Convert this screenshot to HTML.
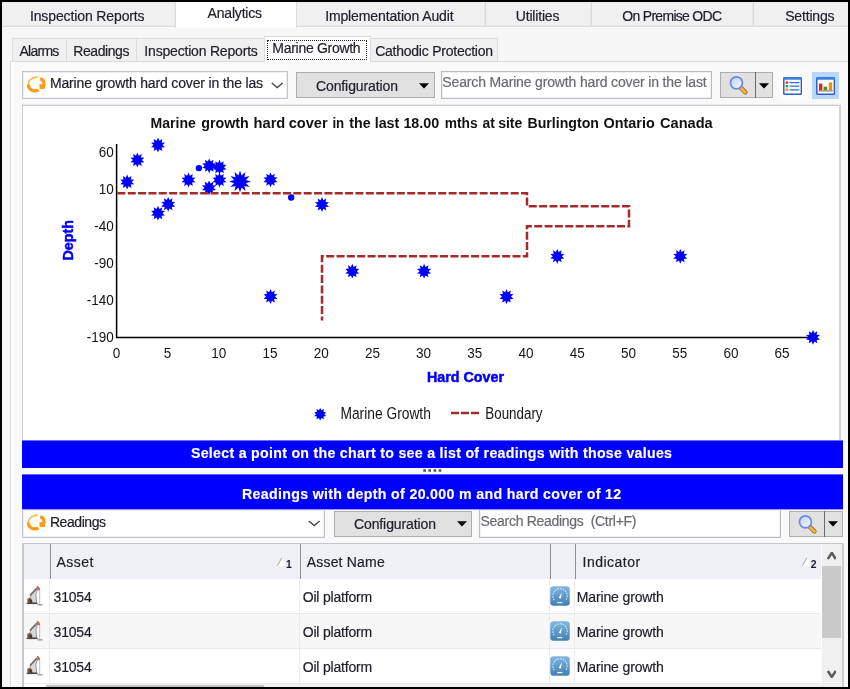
<!DOCTYPE html>
<html lang="en">
<head>
<meta charset="utf-8">
<title>Analytics - Marine Growth</title>
<style>
*{box-sizing:border-box;margin:0;padding:0}
html,body{width:850px;height:689px;overflow:hidden;background:#000}
body{font-family:"Liberation Sans",sans-serif;position:relative}
.a{position:absolute;display:block}
.t{position:absolute;white-space:pre;font-family:"Liberation Sans",sans-serif}
svg.chart{position:absolute;left:0;top:0}
</style>
</head>
<body>
<div class="a" style="left:2px;top:2px;width:846px;height:685px;background:#f7f7f7"></div>
<nav aria-label="Main tabs">
<div class="a" style="left:2px;top:2px;width:846px;height:25px;background:#f0f0f0;border-bottom:1px solid #dcdcdc;border-top:1px solid #e9e9e9;box-shadow:inset 0 -1px 0 #e8e8e8"></div>
<div class="a" style="left:174px;top:2px;width:2px;height:24px;background:linear-gradient(90deg,#e6e6e6 50%,#dadada 50%)"></div>
<div class="a" style="left:484px;top:2px;width:2px;height:24px;background:linear-gradient(90deg,#e6e6e6 50%,#dadada 50%)"></div>
<div class="a" style="left:590px;top:2px;width:2px;height:24px;background:linear-gradient(90deg,#e6e6e6 50%,#dadada 50%)"></div>
<div class="a" style="left:752px;top:2px;width:2px;height:24px;background:linear-gradient(90deg,#e6e6e6 50%,#dadada 50%)"></div>
<div class="a" style="left:175px;top:2px;width:122px;height:26px;background:#fff;border-left:1px solid #dcdcdc;border-right:1px solid #dcdcdc"></div>
<span class="t" style="left:29.95px;top:8.65px;font-size:14.00px;line-height:14.00px;letter-spacing:-0.121px;color:#20202a;-webkit-text-stroke:0.18px #20202a;">Inspection Reports</span>
<span class="t" style="left:207.55px;top:6.35px;font-size:14.00px;line-height:14.00px;letter-spacing:-0.187px;color:#20202a;-webkit-text-stroke:0.18px #20202a;">Analytics</span>
<span class="t" style="left:325.15px;top:8.65px;font-size:14.00px;line-height:14.00px;letter-spacing:-0.118px;color:#20202a;-webkit-text-stroke:0.18px #20202a;">Implementation Audit</span>
<span class="t" style="left:515.75px;top:8.65px;font-size:14.00px;line-height:14.00px;letter-spacing:-0.181px;color:#20202a;-webkit-text-stroke:0.18px #20202a;">Utilities</span>
<span class="t" style="left:622.35px;top:8.65px;font-size:14.00px;line-height:14.00px;letter-spacing:-0.709px;color:#20202a;-webkit-text-stroke:0.18px #20202a;">On Premise ODC</span>
<span class="t" style="left:785.15px;top:8.65px;font-size:14.00px;line-height:14.00px;letter-spacing:-0.158px;color:#20202a;-webkit-text-stroke:0.18px #20202a;">Settings</span>
</nav>
<main>
<nav aria-label="Analytics tabs">
<div class="a" style="left:10px;top:61px;width:838px;height:626px;background:#f9f9f9;border-top:1px solid #dadada;border-left:1px solid #dcdcdc"></div>
<div class="a" style="left:11px;top:62px;width:4px;height:625px;background:linear-gradient(90deg,#fdfdfd 70%,#fafafa)"></div>
<div class="a" style="left:12px;top:38px;width:486px;height:23px;background:#f0f0f0;border:1px solid #dcdcdc;border-bottom:none"></div>
<div class="a" style="left:66px;top:38px;width:1px;height:23px;background:#dcdcdc"></div>
<div class="a" style="left:136px;top:38px;width:1px;height:23px;background:#dcdcdc"></div>
<div class="a" style="left:264px;top:36px;width:107px;height:26px;background:#fff;border:1px solid #dcdcdc;border-bottom:none"></div>
<div class="a" style="left:267px;top:40px;width:100px;height:20px;border:1px dotted #222"></div>
<span class="t" style="left:19.45px;top:43.95px;font-size:14.00px;line-height:14.00px;letter-spacing:-0.727px;color:#20202a;-webkit-text-stroke:0.18px #20202a;">Alarms</span>
<span class="t" style="left:73.35px;top:43.95px;font-size:14.00px;line-height:14.00px;letter-spacing:-0.435px;color:#20202a;-webkit-text-stroke:0.18px #20202a;">Readings</span>
<span class="t" style="left:144.35px;top:43.95px;font-size:14.00px;line-height:14.00px;letter-spacing:-0.191px;color:#20202a;-webkit-text-stroke:0.18px #20202a;">Inspection Reports</span>
<span class="t" style="left:272.35px;top:41.35px;font-size:14.00px;line-height:14.00px;letter-spacing:-0.294px;color:#20202a;-webkit-text-stroke:0.18px #20202a;">Marine Growth</span>
<span class="t" style="left:375.15px;top:43.95px;font-size:14.00px;line-height:14.00px;letter-spacing:-0.236px;color:#20202a;-webkit-text-stroke:0.18px #20202a;">Cathodic Protection</span>
</nav>
<section aria-label="Chart toolbar">
<div class="a" style="left:22px;top:71px;width:266px;height:28px;background:#fff;border:1px solid #c2c4cc;box-shadow:inset 0 0 0 1px #eeeff2"></div>
<svg class="a" style="left:26.2px;top:75.8px" width="21" height="18" viewBox="0 0 21 18"><path d="M2.2 8.4C2.4 4.6 5.8 1.6 10.6 1.2" fill="none" stroke="#ffb347" stroke-width="1.7" stroke-linecap="round"/><path d="M2.4 8.6C2.2 12.2 5.2 14.9 8.8 14.9C10.3 14.9 11.5 14.5 12.4 13.9" fill="none" stroke="#ff9b12" stroke-width="3.3"/><path d="M14.2 2.6C17 3.6 18.4 6 18 9" fill="none" stroke="#ff9b12" stroke-width="3.3"/><path d="M13.4 8.2H19.6L18.6 12.9H13.6Z" fill="#ff9b12"/></svg>
<span class="t" style="left:49.95px;top:76.35px;font-size:14.00px;line-height:14.00px;letter-spacing:-0.163px;color:#20202a;-webkit-text-stroke:0.18px #20202a;">Marine growth hard cover in the las</span>
<svg class="a" style="left:270.6px;top:81.6px" width="12.4" height="7" viewBox="0 0 12.4 7"><path d="M0.8 0.9L6.2 5.6 L11.6 0.9" fill="none" stroke="#444" stroke-width="1.3"/></svg>
<div class="a" style="left:296px;top:72px;width:139px;height:26px;background:#e1e1e1;border:1px solid #adadad"></div>
<span class="t" style="left:315.95px;top:79.15px;font-size:14.00px;line-height:14.00px;letter-spacing:-0.099px;color:#20202a;-webkit-text-stroke:0.18px #20202a;">Configuration</span>
<svg class="a" style="left:419.3px;top:82.6px" width="10" height="6" viewBox="0 0 10 6"><path d="M0 0.3H10L5 5.6Z" fill="#000"/></svg>
<div class="a" style="left:441px;top:71px;width:271px;height:28px;background:#fff;border:1px solid #b9bbc2;box-shadow:inset 0 0 0 1px #f0f0f3"></div>
<span class="t" style="left:442.35px;top:74.55px;font-size:14.00px;line-height:14.00px;letter-spacing:-0.155px;color:#6a6a70;-webkit-text-stroke:0.20px #6a6a70;">Search Marine growth hard cover in the last</span>
<div class="a" style="left:720px;top:72px;width:53.4px;height:26px;background:#e1e1e1;border:1px solid #adadad"></div>
<div class="a" style="left:755px;top:72px;width:1px;height:26px;background:#6a6a6a"></div>
<svg class="a" style="left:727px;top:73px" width="24" height="24" viewBox="0 0 24 24"><defs><linearGradient id="lg727" x1="0" y1="0" x2="1" y2="1"><stop offset="0" stop-color="#b9d2ff"/><stop offset="1" stop-color="#f4f9ff"/></linearGradient></defs><path d="M13.4 14.4L18.4 19.4" stroke="#a06a18" stroke-width="4.4" stroke-linecap="round"/><path d="M13.4 14.4L18.4 19.4" stroke="#f3b24c" stroke-width="2.8" stroke-linecap="round"/><circle cx="9.4" cy="9.8" r="6" fill="url(#lg727)" stroke="#6f86ea" stroke-width="1.7"/></svg>
<svg class="a" style="left:759.2px;top:82.8px" width="10" height="6" viewBox="0 0 10 6"><path d="M0 0.3H10L5 5.6Z" fill="#000"/></svg>
<div class="a" style="left:779px;top:71px;width:28px;height:28px;background:#fcfcfc"></div>
<svg class="a" style="left:783.3px;top:76.7px" width="19.2" height="18" viewBox="0 0 19.2 18"><rect x="0.8" y="0.8" width="17.6" height="16.4" rx="0.8" fill="#fff" stroke="#2a5fc4" stroke-width="1.5"/><rect x="0.3" y="0.2" width="18.6" height="2.6" rx="0.6" fill="#3f80e4"/><rect x="2.6" y="4.4" width="2.6" height="2.4" fill="#e0352b"/><rect x="2.6" y="8" width="2.6" height="2.4" fill="#2fa32c"/><rect x="2.6" y="11.6" width="2.6" height="2.4" fill="#f5921a"/><path d="M6.6 5.6H16.4M6.6 9.2H16.4M6.6 12.8H16.4" stroke="#2f6ad0" stroke-width="1.3"/></svg>
<div class="a" style="left:812px;top:72px;width:27px;height:27px;background:#b9d7fb"></div>
<svg class="a" style="left:815.9px;top:76.7px" width="19.2" height="18" viewBox="0 0 19.2 18"><rect x="0.8" y="0.8" width="17.6" height="16.4" rx="0.8" fill="#fff" stroke="#2a5fc4" stroke-width="1.5"/><rect x="0.3" y="0.2" width="18.6" height="2.6" rx="0.6" fill="#3f80e4"/><rect x="3" y="6.6" width="3.4" height="6.6" fill="#e3241c"/><rect x="7.6" y="9.6" width="3.6" height="3.6" fill="#2aa52a"/><rect x="12.8" y="5.4" width="3.4" height="7.8" fill="#f58a10"/><path d="M2.4 13.9H16.8" stroke="#8a5a50" stroke-width="1"/></svg>
</section>
<section aria-label="Chart">
<div class="a" style="left:22px;top:105px;width:819px;height:337px;background:#fff;border:1px solid #d0d0d4;border-top:1px solid #c9c9cd;border-right:2px solid #d4d4d8;box-shadow:0 -1px 0 #ececee"></div>
<svg class="chart" width="850" height="689" viewBox="0 0 850 689">
<g font-family="'Liberation Sans', sans-serif" fill="#151515">
<text y="127.8" font-weight="bold" font-size="14.0" fill="#111"><tspan x="150.60" textLength="45.27" lengthAdjust="spacingAndGlyphs">Marine</tspan> <tspan x="201.20" textLength="47.57" lengthAdjust="spacingAndGlyphs">growth</tspan> <tspan x="253.60" textLength="31.73" lengthAdjust="spacingAndGlyphs">hard</tspan> <tspan x="288.70" textLength="38.98" lengthAdjust="spacingAndGlyphs">cover</tspan> <tspan x="332.40" textLength="11.78" lengthAdjust="spacingAndGlyphs">in</tspan> <tspan x="349.30" textLength="21.30" lengthAdjust="spacingAndGlyphs">the</tspan> <tspan x="374.70" textLength="24.57" lengthAdjust="spacingAndGlyphs">last</tspan> <tspan x="403.40" textLength="35.86" lengthAdjust="spacingAndGlyphs">18.00</tspan> <tspan x="444.80" textLength="32.89" lengthAdjust="spacingAndGlyphs">mths</tspan> <tspan x="482.50" textLength="12.29" lengthAdjust="spacingAndGlyphs">at</tspan> <tspan x="498.20" textLength="24.07" lengthAdjust="spacingAndGlyphs">site</tspan> <tspan x="527.50" textLength="71.39" lengthAdjust="spacingAndGlyphs">Burlington</tspan> <tspan x="603.50" textLength="51.21" lengthAdjust="spacingAndGlyphs">Ontario</tspan> <tspan x="660.00" textLength="52.69" lengthAdjust="spacingAndGlyphs">Canada</tspan></text>
<text transform="translate(113.8,156.6) scale(0.890,1)" text-anchor="end" font-size="15.2" >60</text>
<text transform="translate(113.8,194.4) scale(0.890,1)" text-anchor="end" font-size="15.2" >10</text>
<text transform="translate(113.8,230.7) scale(0.890,1)" text-anchor="end" font-size="15.2" >-40</text>
<text transform="translate(113.8,267.9) scale(0.890,1)" text-anchor="end" font-size="15.2" >-90</text>
<text transform="translate(113.8,305.0) scale(0.890,1)" text-anchor="end" font-size="15.2" >-140</text>
<text transform="translate(113.8,342.2) scale(0.890,1)" text-anchor="end" font-size="15.2" >-190</text>
<text transform="translate(116.4,358.1) scale(0.890,1)" text-anchor="middle" font-size="15.2" >0</text>
<text transform="translate(167.6,358.1) scale(0.890,1)" text-anchor="middle" font-size="15.2" >5</text>
<text transform="translate(218.8,358.1) scale(0.890,1)" text-anchor="middle" font-size="15.2" >10</text>
<text transform="translate(270.0,358.1) scale(0.890,1)" text-anchor="middle" font-size="15.2" >15</text>
<text transform="translate(321.2,358.1) scale(0.890,1)" text-anchor="middle" font-size="15.2" >20</text>
<text transform="translate(372.4,358.1) scale(0.890,1)" text-anchor="middle" font-size="15.2" >25</text>
<text transform="translate(423.6,358.1) scale(0.890,1)" text-anchor="middle" font-size="15.2" >30</text>
<text transform="translate(474.8,358.1) scale(0.890,1)" text-anchor="middle" font-size="15.2" >35</text>
<text transform="translate(526.0,358.1) scale(0.890,1)" text-anchor="middle" font-size="15.2" >40</text>
<text transform="translate(577.3,358.1) scale(0.890,1)" text-anchor="middle" font-size="15.2" >45</text>
<text transform="translate(628.5,358.1) scale(0.890,1)" text-anchor="middle" font-size="15.2" >50</text>
<text transform="translate(679.7,358.1) scale(0.890,1)" text-anchor="middle" font-size="15.2" >55</text>
<text transform="translate(730.9,358.1) scale(0.890,1)" text-anchor="middle" font-size="15.2" >60</text>
<text transform="translate(782.1,358.1) scale(0.890,1)" text-anchor="middle" font-size="15.2" >65</text>
<text transform="translate(340.4,419.4) scale(0.885,1)" text-anchor="start" font-size="15.6" >Marine Growth</text>
<text transform="translate(485.3,419.4) scale(0.858,1)" text-anchor="start" font-size="15.6" >Boundary</text>
</g>
<g font-family="'Liberation Sans', sans-serif" fill="#0000ff" stroke="#0000ff" stroke-width="0.5" font-weight="bold">
<text x="427" y="381.6" font-size="14.6" textLength="77" lengthAdjust="spacingAndGlyphs">Hard Cover</text>
<text transform="translate(72.9,260.6) rotate(-90)" font-size="14.2" textLength="40.5" lengthAdjust="spacingAndGlyphs">Depth</text>
</g>
<path d="M116.6 144V338.2M115.9 337.5H814" stroke="#000" stroke-width="1.5" fill="none"/>
<path d="M451 413H479" stroke="#a52a2a" stroke-width="2.5" stroke-dasharray="8 2" fill="none"/>
<g fill="#0000ff">
<polygon points="127.2,174.6 128.6,177.7 131.5,176.0 130.8,179.4 134.2,179.7 131.7,182.0 134.2,184.3 130.8,184.6 131.5,188.0 128.6,186.3 127.2,189.4 125.8,186.3 122.9,188.0 123.6,184.6 120.2,184.3 122.7,182.0 120.2,179.7 123.6,179.4 122.9,176.0 125.8,177.7"/>
<polygon points="137.4,152.6 138.8,155.7 141.7,154.0 141.0,157.4 144.4,157.7 141.9,160.0 144.4,162.3 141.0,162.6 141.7,166.0 138.8,164.3 137.4,167.4 136.0,164.3 133.1,166.0 133.8,162.6 130.4,162.3 132.9,160.0 130.4,157.7 133.8,157.4 133.1,154.0 136.0,155.7"/>
<polygon points="158.0,137.6 159.4,140.7 162.3,139.0 161.6,142.4 165.0,142.7 162.5,145.0 165.0,147.3 161.6,147.6 162.3,151.0 159.4,149.3 158.0,152.4 156.6,149.3 153.7,151.0 154.4,147.6 151.0,147.3 153.5,145.0 151.0,142.7 154.4,142.4 153.7,139.0 156.6,140.7"/>
<polygon points="158.0,205.8 159.4,208.9 162.3,207.2 161.6,210.6 165.0,210.9 162.5,213.2 165.0,215.5 161.6,215.8 162.3,219.2 159.4,217.5 158.0,220.6 156.6,217.5 153.7,219.2 154.4,215.8 151.0,215.5 153.5,213.2 151.0,210.9 154.4,210.6 153.7,207.2 156.6,208.9"/>
<polygon points="168.2,196.9 169.6,200.0 172.5,198.3 171.8,201.7 175.2,202.0 172.7,204.3 175.2,206.6 171.8,206.9 172.5,210.3 169.6,208.6 168.2,211.7 166.8,208.6 163.9,210.3 164.6,206.9 161.2,206.6 163.7,204.3 161.2,202.0 164.6,201.7 163.9,198.3 166.8,200.0"/>
<polygon points="188.5,172.6 189.9,175.7 192.8,174.0 192.1,177.4 195.5,177.7 193.0,180.0 195.5,182.3 192.1,182.6 192.8,186.0 189.9,184.3 188.5,187.4 187.1,184.3 184.2,186.0 184.9,182.6 181.5,182.3 184.0,180.0 181.5,177.7 184.9,177.4 184.2,174.0 187.1,175.7"/>
<polygon points="209.2,158.4 210.6,161.5 213.5,159.8 212.8,163.2 216.2,163.5 213.7,165.8 216.2,168.1 212.8,168.4 213.5,171.8 210.6,170.1 209.2,173.2 207.8,170.1 204.9,171.8 205.6,168.4 202.2,168.1 204.7,165.8 202.2,163.5 205.6,163.2 204.9,159.8 207.8,161.5"/>
<polygon points="219.5,159.8 220.9,162.9 223.8,161.2 223.1,164.6 226.5,164.9 224.0,167.2 226.5,169.5 223.1,169.8 223.8,173.2 220.9,171.5 219.5,174.6 218.1,171.5 215.2,173.2 215.9,169.8 212.5,169.5 215.0,167.2 212.5,164.9 215.9,164.6 215.2,161.2 218.1,162.9"/>
<polygon points="209.0,180.4 210.4,183.5 213.3,181.8 212.6,185.2 216.0,185.5 213.5,187.8 216.0,190.1 212.6,190.4 213.3,193.8 210.4,192.1 209.0,195.2 207.6,192.1 204.7,193.8 205.4,190.4 202.0,190.1 204.5,187.8 202.0,185.5 205.4,185.2 204.7,181.8 207.6,183.5"/>
<polygon points="219.5,172.6 220.9,175.7 223.8,174.0 223.1,177.4 226.5,177.7 224.0,180.0 226.5,182.3 223.1,182.6 223.8,186.0 220.9,184.3 219.5,187.4 218.1,184.3 215.2,186.0 215.9,182.6 212.5,182.3 215.0,180.0 212.5,177.7 215.9,177.4 215.2,174.0 218.1,175.7"/>
<polygon points="270.5,172.4 271.9,175.5 274.8,173.8 274.1,177.2 277.5,177.5 275.0,179.8 277.5,182.1 274.1,182.4 274.8,185.8 271.9,184.1 270.5,187.2 269.1,184.1 266.2,185.8 266.9,182.4 263.5,182.1 266.0,179.8 263.5,177.5 266.9,177.2 266.2,173.8 269.1,175.5"/>
<polygon points="322.0,197.1 323.4,200.2 326.3,198.5 325.6,201.9 329.0,202.2 326.5,204.5 329.0,206.8 325.6,207.1 326.3,210.5 323.4,208.8 322.0,211.9 320.6,208.8 317.7,210.5 318.4,207.1 315.0,206.8 317.5,204.5 315.0,202.2 318.4,201.9 317.7,198.5 320.6,200.2"/>
<polygon points="270.5,289.1 271.9,292.2 274.8,290.5 274.1,293.9 277.5,294.2 275.0,296.5 277.5,298.8 274.1,299.1 274.8,302.5 271.9,300.8 270.5,303.9 269.1,300.8 266.2,302.5 266.9,299.1 263.5,298.8 266.0,296.5 263.5,294.2 266.9,293.9 266.2,290.5 269.1,292.2"/>
<polygon points="352.3,263.8 353.7,266.9 356.6,265.2 355.9,268.6 359.3,268.9 356.8,271.2 359.3,273.5 355.9,273.8 356.6,277.2 353.7,275.5 352.3,278.6 350.9,275.5 348.0,277.2 348.7,273.8 345.3,273.5 347.8,271.2 345.3,268.9 348.7,268.6 348.0,265.2 350.9,266.9"/>
<polygon points="424.1,263.8 425.5,266.9 428.4,265.2 427.7,268.6 431.1,268.9 428.6,271.2 431.1,273.5 427.7,273.8 428.4,277.2 425.5,275.5 424.1,278.6 422.7,275.5 419.8,277.2 420.5,273.8 417.1,273.5 419.6,271.2 417.1,268.9 420.5,268.6 419.8,265.2 422.7,266.9"/>
<polygon points="506.5,289.2 507.9,292.3 510.8,290.6 510.1,294.0 513.5,294.3 511.0,296.6 513.5,298.9 510.1,299.2 510.8,302.6 507.9,300.9 506.5,304.0 505.1,300.9 502.2,302.6 502.9,299.2 499.5,298.9 502.0,296.6 499.5,294.3 502.9,294.0 502.2,290.6 505.1,292.3"/>
<polygon points="557.3,248.9 558.7,252.0 561.6,250.3 560.9,253.7 564.3,254.0 561.8,256.3 564.3,258.6 560.9,258.9 561.6,262.3 558.7,260.6 557.3,263.7 555.9,260.6 553.0,262.3 553.7,258.9 550.3,258.6 552.8,256.3 550.3,254.0 553.7,253.7 553.0,250.3 555.9,252.0"/>
<polygon points="680.3,248.9 681.7,252.0 684.6,250.3 683.9,253.7 687.3,254.0 684.8,256.3 687.3,258.6 683.9,258.9 684.6,262.3 681.7,260.6 680.3,263.7 678.9,260.6 676.0,262.3 676.7,258.9 673.3,258.6 675.8,256.3 673.3,254.0 676.7,253.7 676.0,250.3 678.9,252.0"/>
<polygon points="813.0,329.9 814.4,333.0 817.3,331.3 816.6,334.7 820.0,335.0 817.5,337.3 820.0,339.6 816.6,339.9 817.3,343.3 814.4,341.6 813.0,344.7 811.6,341.6 808.7,343.3 809.4,339.9 806.0,339.6 808.5,337.3 806.0,335.0 809.4,334.7 808.7,331.3 811.6,333.0"/>
<polygon points="240.0,170.6 241.6,175.6 245.5,172.1 244.4,177.2 249.5,176.1 246.0,180.0 251.0,181.6 246.0,183.2 249.5,187.1 244.4,186.0 245.5,191.1 241.6,187.6 240.0,192.6 238.4,187.6 234.5,191.1 235.6,186.0 230.5,187.1 234.0,183.2 229.0,181.6 234.0,180.0 230.5,176.1 235.6,177.2 234.5,172.1 238.4,175.6"/>
<circle cx="198.9" cy="168.1" r="3.2"/>
<circle cx="291.2" cy="197.5" r="3.2"/>
<polygon points="320.2,407.9 321.5,410.3 323.9,409.1 323.5,411.8 326.2,412.3 324.3,414.2 326.2,416.1 323.5,416.6 323.9,419.3 321.5,418.1 320.2,420.5 318.9,418.1 316.5,419.3 316.9,416.6 314.2,416.1 316.1,414.2 314.2,412.3 316.9,411.8 316.5,409.1 318.9,410.3"/>
</g>
<path d="M117.4 193.2H527V206.2H629V226.2H527V256.2H322V320.5" stroke="#a52a2a" stroke-width="2.5" stroke-dasharray="8 2.35" fill="none"/>
</svg>
</section>
<section aria-label="Selection">
<div class="a" style="left:22px;top:440px;width:821px;height:28px;background:#0000ff;border-top:1px solid #6a6aff"></div>
<span class="t" style="left:190.95px;top:445.58px;font-size:14.20px;line-height:14.20px;letter-spacing:0.284px;color:#fff;font-weight:bold;-webkit-text-stroke:0.15px #fff;">Select a point on the chart to see a list of readings with those values</span>
<svg class="a" style="left:420px;top:468px" width="26" height="6" viewBox="420 468 26 6"><rect x="423.3" y="469.2" width="2.6" height="2.6" fill="#555"/><rect x="428.4" y="469.2" width="2.6" height="2.6" fill="#555"/><rect x="433.6" y="469.2" width="2.6" height="2.6" fill="#555"/><rect x="438.7" y="469.2" width="2.6" height="2.6" fill="#555"/></svg>
<div class="a" style="left:22px;top:474px;width:821px;height:36px;background:#0000ff;border-top:1px solid #6060fb;border-bottom:1px solid #9a9aff"></div>
<span class="t" style="left:241.95px;top:486.78px;font-size:14.20px;line-height:14.20px;letter-spacing:0.325px;color:#fff;font-weight:bold;-webkit-text-stroke:0.15px #fff;">Readings with depth of 20.000 m and hard cover of 12</span>
</section>
<section aria-label="Readings toolbar">
<div class="a" style="left:22px;top:509.5px;width:303px;height:28px;background:#fff;border:1px solid #c2c4cc;box-shadow:inset 0 0 0 1px #eeeff2;border-top:none"></div>
<svg class="a" style="left:26.2px;top:514.4px" width="21" height="18" viewBox="0 0 21 18"><path d="M2.2 8.4C2.4 4.6 5.8 1.6 10.6 1.2" fill="none" stroke="#ffb347" stroke-width="1.7" stroke-linecap="round"/><path d="M2.4 8.6C2.2 12.2 5.2 14.9 8.8 14.9C10.3 14.9 11.5 14.5 12.4 13.9" fill="none" stroke="#ff9b12" stroke-width="3.3"/><path d="M14.2 2.6C17 3.6 18.4 6 18 9" fill="none" stroke="#ff9b12" stroke-width="3.3"/><path d="M13.4 8.2H19.6L18.6 12.9H13.6Z" fill="#ff9b12"/></svg>
<span class="t" style="left:49.95px;top:514.95px;font-size:14.00px;line-height:14.00px;letter-spacing:-0.435px;color:#20202a;-webkit-text-stroke:0.18px #20202a;">Readings</span>
<svg class="a" style="left:308px;top:520px" width="12.4" height="7" viewBox="0 0 12.4 7"><path d="M0.8 0.9L6.2 5.6 L11.6 0.9" fill="none" stroke="#444" stroke-width="1.3"/></svg>
<div class="a" style="left:334px;top:511px;width:138px;height:25.5px;background:#e1e1e1;border:1px solid #adadad"></div>
<span class="t" style="left:353.95px;top:516.75px;font-size:14.00px;line-height:14.00px;letter-spacing:-0.099px;color:#20202a;-webkit-text-stroke:0.18px #20202a;">Configuration</span>
<svg class="a" style="left:456.6px;top:521.4px" width="10" height="6" viewBox="0 0 10 6"><path d="M0 0.3H10L5 5.6Z" fill="#000"/></svg>
<div class="a" style="left:479px;top:509.5px;width:302px;height:28px;background:#fff;border:1px solid #b9bbc2;border-top:none;box-shadow:inset 0 0 0 1px #f0f0f3"></div>
<span class="t" style="left:480.55px;top:513.75px;font-size:14.00px;line-height:14.00px;letter-spacing:-0.297px;color:#6a6a70;-webkit-text-stroke:0.20px #6a6a70;">Search Readings&nbsp; (Ctrl+F)</span>
<div class="a" style="left:789px;top:511px;width:53.5px;height:25.5px;background:#e1e1e1;border:1px solid #adadad"></div>
<div class="a" style="left:824px;top:511px;width:1px;height:25.5px;background:#6a6a6a"></div>
<svg class="a" style="left:796px;top:511.6px" width="24" height="24" viewBox="0 0 24 24"><defs><linearGradient id="lg796" x1="0" y1="0" x2="1" y2="1"><stop offset="0" stop-color="#b9d2ff"/><stop offset="1" stop-color="#f4f9ff"/></linearGradient></defs><path d="M13.4 14.4L18.4 19.4" stroke="#a06a18" stroke-width="4.4" stroke-linecap="round"/><path d="M13.4 14.4L18.4 19.4" stroke="#f3b24c" stroke-width="2.8" stroke-linecap="round"/><circle cx="9.4" cy="9.8" r="6" fill="url(#lg796)" stroke="#6f86ea" stroke-width="1.7"/></svg>
<svg class="a" style="left:828.4px;top:521.4px" width="10" height="6" viewBox="0 0 10 6"><path d="M0 0.3H10L5 5.6Z" fill="#000"/></svg>
</section>
<section aria-label="Readings grid">
<div class="a" style="left:22px;top:543px;width:822px;height:146px;background:#fff;border:1px solid #c6c6cc;border-left:2px solid #c8c8cf;border-right:2px solid #cdcdd4"></div>
<div class="a" style="left:24px;top:544px;width:797px;height:35px;background:#eef0f4"></div>
<div class="a" style="left:24px;top:614px;width:797px;height:34px;background:#f7f7f8"></div>
<div class="a" style="left:24px;top:613px;width:797px;height:1px;background:#e9e9eb"></div>
<div class="a" style="left:24px;top:648px;width:797px;height:1px;background:#e9e9eb"></div>
<div class="a" style="left:24px;top:683px;width:797px;height:1px;background:#e9e9eb"></div>
<div class="a" style="left:49px;top:579px;width:1px;height:107px;background:#ebebed"></div>
<div class="a" style="left:299px;top:579px;width:1px;height:107px;background:#ebebed"></div>
<div class="a" style="left:549px;top:579px;width:1px;height:107px;background:#ebebed"></div>
<div class="a" style="left:574px;top:579px;width:1px;height:107px;background:#ebebed"></div>
<div class="a" style="left:50px;top:544px;width:1px;height:35px;background:#8f8f93"></div>
<div class="a" style="left:300px;top:544px;width:1px;height:35px;background:#8f8f93"></div>
<div class="a" style="left:550px;top:544px;width:1px;height:35px;background:#8f8f93"></div>
<div class="a" style="left:575px;top:544px;width:1px;height:35px;background:#8f8f93"></div>
<span class="t" style="left:56.55px;top:554.95px;font-size:14.00px;line-height:14.00px;letter-spacing:0.475px;color:#20202a;-webkit-text-stroke:0.18px #20202a;">Asset</span>
<span class="t" style="left:306.75px;top:554.95px;font-size:14.00px;line-height:14.00px;letter-spacing:0.186px;color:#20202a;-webkit-text-stroke:0.18px #20202a;">Asset Name</span>
<span class="t" style="left:582.55px;top:554.95px;font-size:14.00px;line-height:14.00px;letter-spacing:0.477px;color:#20202a;-webkit-text-stroke:0.18px #20202a;">Indicator</span>
<svg class="a" style="left:277.2px;top:557.4px" width="10" height="10" viewBox="0 0 10 10"><path d="M0.4 8.8L4.8 0.8L9.4 8.8Z" fill="#fff"/><path d="M0.5 8.6L4.8 0.9" stroke="#a9a596" stroke-width="1" fill="none"/></svg><span class="t" style="left:286.00px;top:560.00px;font-size:10.40px;line-height:10.40px;letter-spacing:0.000px;color:#1a1a2a;font-weight:bold;">1</span>
<svg class="a" style="left:802px;top:557.4px" width="10" height="10" viewBox="0 0 10 10"><path d="M0.4 8.8L4.8 0.8L9.4 8.8Z" fill="#fff"/><path d="M0.5 8.6L4.8 0.9" stroke="#a9a596" stroke-width="1" fill="none"/></svg><span class="t" style="left:810.80px;top:560.00px;font-size:10.40px;line-height:10.40px;letter-spacing:0.000px;color:#1a1a2a;font-weight:bold;">2</span>
<svg class="a" style="left:26.4px;top:584.8px" width="18" height="22" viewBox="0 0 18 22"><path d="M2.2 17.5L5 9.5L10.6 3.4L11.6 4.6L9.8 9L10.6 17.5Z" fill="#d9d9d9" stroke="#8a8a8a" stroke-width="0.9"/><path d="M4 10.5L11 3.2" stroke="#6e6e6e" stroke-width="1.8"/><path d="M10.8 0.8C12.6 0.6 14.2 3 14.2 5.6L12.8 5.4L10.8 3.6Z" fill="#b4714e"/><path d="M13.7 5V19.6" stroke="#b8b8b8" stroke-width="0.9"/><rect x="1.4" y="13.4" width="4" height="4.4" fill="#8a4f33"/><rect x="3.6" y="14.6" width="2.6" height="3.4" fill="#3c3c3c"/><path d="M0.6 18.4H11.6" stroke="#4a4a4a" stroke-width="1.4"/><path d="M11.6 19.8H16.6" stroke="#9a9a9a" stroke-width="1.4"/></svg>
<span class="t" style="left:53.55px;top:589.55px;font-size:14.00px;line-height:14.00px;letter-spacing:-0.204px;color:#20202a;-webkit-text-stroke:0.18px #20202a;">31054</span>
<span class="t" style="left:302.75px;top:589.55px;font-size:14.00px;line-height:14.00px;letter-spacing:-0.203px;color:#20202a;-webkit-text-stroke:0.18px #20202a;">Oil platform</span>
<svg class="a" style="left:550px;top:586px" width="20" height="20" viewBox="0 0 20 20"><defs><linearGradient id="gg0" x1="0" y1="0" x2="0" y2="1"><stop offset="0" stop-color="#86b8e0"/><stop offset="0.5" stop-color="#5d9bcb"/><stop offset="1" stop-color="#457fb1"/></linearGradient></defs><rect x="0.3" y="0.3" width="19.4" height="19.4" rx="3" fill="url(#gg0)"/><path d="M4.2 14.2A7.2 7.2 0 1 1 15.8 14.2" fill="none" stroke="#eaf3fb" stroke-opacity="0.85" stroke-width="1.1" stroke-dasharray="1.7 0.9"/><path d="M8.6 12L11.8 6.4L11 12.4Z" fill="#fff"/><path d="M7.2 16.6H12.4" stroke="#eef5fb" stroke-width="1.3"/></svg>
<span class="t" style="left:576.75px;top:589.55px;font-size:14.00px;line-height:14.00px;letter-spacing:-0.132px;color:#20202a;-webkit-text-stroke:0.18px #20202a;">Marine growth</span>
<svg class="a" style="left:26.4px;top:619.8px" width="18" height="22" viewBox="0 0 18 22"><path d="M2.2 17.5L5 9.5L10.6 3.4L11.6 4.6L9.8 9L10.6 17.5Z" fill="#d9d9d9" stroke="#8a8a8a" stroke-width="0.9"/><path d="M4 10.5L11 3.2" stroke="#6e6e6e" stroke-width="1.8"/><path d="M10.8 0.8C12.6 0.6 14.2 3 14.2 5.6L12.8 5.4L10.8 3.6Z" fill="#b4714e"/><path d="M13.7 5V19.6" stroke="#b8b8b8" stroke-width="0.9"/><rect x="1.4" y="13.4" width="4" height="4.4" fill="#8a4f33"/><rect x="3.6" y="14.6" width="2.6" height="3.4" fill="#3c3c3c"/><path d="M0.6 18.4H11.6" stroke="#4a4a4a" stroke-width="1.4"/><path d="M11.6 19.8H16.6" stroke="#9a9a9a" stroke-width="1.4"/></svg>
<span class="t" style="left:53.55px;top:624.55px;font-size:14.00px;line-height:14.00px;letter-spacing:-0.204px;color:#20202a;-webkit-text-stroke:0.18px #20202a;">31054</span>
<span class="t" style="left:302.75px;top:624.55px;font-size:14.00px;line-height:14.00px;letter-spacing:-0.203px;color:#20202a;-webkit-text-stroke:0.18px #20202a;">Oil platform</span>
<svg class="a" style="left:550px;top:621px" width="20" height="20" viewBox="0 0 20 20"><defs><linearGradient id="gg1" x1="0" y1="0" x2="0" y2="1"><stop offset="0" stop-color="#86b8e0"/><stop offset="0.5" stop-color="#5d9bcb"/><stop offset="1" stop-color="#457fb1"/></linearGradient></defs><rect x="0.3" y="0.3" width="19.4" height="19.4" rx="3" fill="url(#gg1)"/><path d="M4.2 14.2A7.2 7.2 0 1 1 15.8 14.2" fill="none" stroke="#eaf3fb" stroke-opacity="0.85" stroke-width="1.1" stroke-dasharray="1.7 0.9"/><path d="M8.6 12L11.8 6.4L11 12.4Z" fill="#fff"/><path d="M7.2 16.6H12.4" stroke="#eef5fb" stroke-width="1.3"/></svg>
<span class="t" style="left:576.75px;top:624.55px;font-size:14.00px;line-height:14.00px;letter-spacing:-0.132px;color:#20202a;-webkit-text-stroke:0.18px #20202a;">Marine growth</span>
<svg class="a" style="left:26.4px;top:654.8px" width="18" height="22" viewBox="0 0 18 22"><path d="M2.2 17.5L5 9.5L10.6 3.4L11.6 4.6L9.8 9L10.6 17.5Z" fill="#d9d9d9" stroke="#8a8a8a" stroke-width="0.9"/><path d="M4 10.5L11 3.2" stroke="#6e6e6e" stroke-width="1.8"/><path d="M10.8 0.8C12.6 0.6 14.2 3 14.2 5.6L12.8 5.4L10.8 3.6Z" fill="#b4714e"/><path d="M13.7 5V19.6" stroke="#b8b8b8" stroke-width="0.9"/><rect x="1.4" y="13.4" width="4" height="4.4" fill="#8a4f33"/><rect x="3.6" y="14.6" width="2.6" height="3.4" fill="#3c3c3c"/><path d="M0.6 18.4H11.6" stroke="#4a4a4a" stroke-width="1.4"/><path d="M11.6 19.8H16.6" stroke="#9a9a9a" stroke-width="1.4"/></svg>
<span class="t" style="left:53.55px;top:659.55px;font-size:14.00px;line-height:14.00px;letter-spacing:-0.204px;color:#20202a;-webkit-text-stroke:0.18px #20202a;">31054</span>
<span class="t" style="left:302.75px;top:659.55px;font-size:14.00px;line-height:14.00px;letter-spacing:-0.203px;color:#20202a;-webkit-text-stroke:0.18px #20202a;">Oil platform</span>
<svg class="a" style="left:550px;top:656px" width="20" height="20" viewBox="0 0 20 20"><defs><linearGradient id="gg2" x1="0" y1="0" x2="0" y2="1"><stop offset="0" stop-color="#86b8e0"/><stop offset="0.5" stop-color="#5d9bcb"/><stop offset="1" stop-color="#457fb1"/></linearGradient></defs><rect x="0.3" y="0.3" width="19.4" height="19.4" rx="3" fill="url(#gg2)"/><path d="M4.2 14.2A7.2 7.2 0 1 1 15.8 14.2" fill="none" stroke="#eaf3fb" stroke-opacity="0.85" stroke-width="1.1" stroke-dasharray="1.7 0.9"/><path d="M8.6 12L11.8 6.4L11 12.4Z" fill="#fff"/><path d="M7.2 16.6H12.4" stroke="#eef5fb" stroke-width="1.3"/></svg>
<span class="t" style="left:576.75px;top:659.55px;font-size:14.00px;line-height:14.00px;letter-spacing:-0.132px;color:#20202a;-webkit-text-stroke:0.18px #20202a;">Marine growth</span>
<div class="a" style="left:822px;top:544px;width:20px;height:143px;background:#f0f0f0"></div>
<div class="a" style="left:822px;top:566px;width:19px;height:72px;background:#c9c9c9"></div>
<svg class="a" style="left:826.8px;top:551.6px" width="9.6" height="8.4" viewBox="0 0 9.6 8.4"><path d="M0.8 7 L4.8 0.9L8.8 7" fill="none" stroke="#5a5a5a" stroke-width="2.5"/></svg>
<svg class="a" style="left:826.8px;top:669.6px" width="9.6" height="8.4" viewBox="0 0 9.6 8.4"><path d="M0.8 0.9L4.8 7 L8.8 0.9" fill="none" stroke="#5a5a5a" stroke-width="2.5"/></svg>
<div class="a" style="left:46px;top:684px;width:776px;height:3px;background:#f1f1f1"></div>
<div class="a" style="left:46px;top:685px;width:218px;height:2px;background:#c4c4c4"></div>
</section>
</main>
<div class="a" style="left:0px;top:0px;width:850px;height:2px;background:#000"></div>
<div class="a" style="left:0px;top:0px;width:2px;height:689px;background:#000"></div>
<div class="a" style="left:848px;top:0px;width:2px;height:689px;background:#000"></div>
<div class="a" style="left:0px;top:687px;width:850px;height:2px;background:#000"></div>
</body>
</html>
